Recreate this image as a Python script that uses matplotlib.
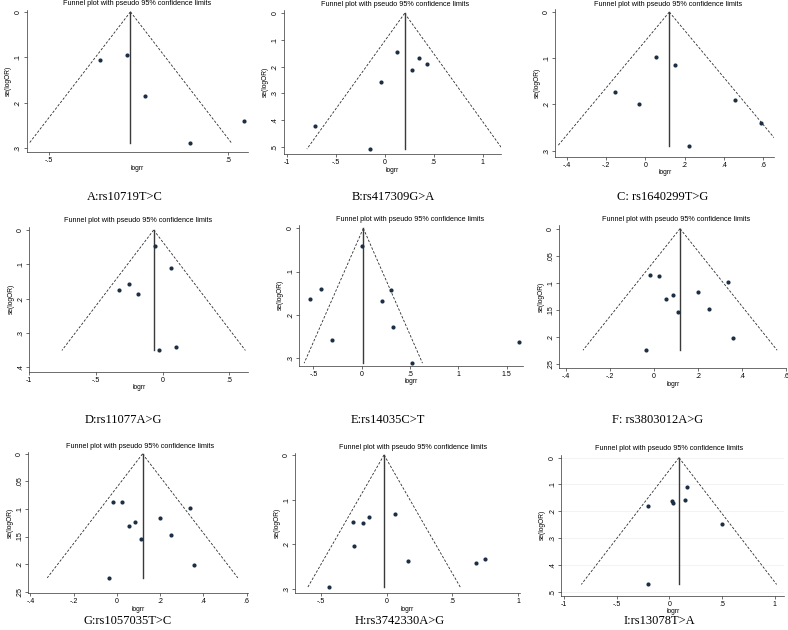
import matplotlib
matplotlib.use("Agg")
import matplotlib.pyplot as plt
import numpy as np

# ---- data (log rr, standard error, pooled estimate)
A_logrr = [-0.215, -0.066, 0.036, 0.290, 0.588]
A_se = [0.106, 0.095, 0.185, 0.289, 0.239]
A_center = -0.045

B_logrr = [-0.707, -0.146, -0.034, 0.126, 0.282, 0.350, 0.432]
B_se = [0.4225, 0.509, 0.256, 0.144, 0.2125, 0.169, 0.191]
B_center = 0.204

C_logrr = [-0.156, -0.034, 0.054, 0.149, 0.458, 0.586, 0.224]
C_se = [0.172, 0.200, 0.097, 0.115, 0.190, 0.240, 0.289]
C_center = 0.122

D_logrr = [-0.055, 0.0625, -0.255, -0.325, -0.185, -0.025, 0.100]
D_se = [0.046, 0.111, 0.158, 0.175, 0.186, 0.351, 0.341]
D_center = -0.0675

E_logrr = [0.007, -0.417, -0.531, 0.300, 0.214, 0.328, -0.303, 0.524, 1.628]
E_se = [0.042, 0.140, 0.163, 0.143, 0.169, 0.229, 0.258, 0.312, 0.263]
E_center = 0.017

F_logrr = [-0.018, 0.024, 0.057, 0.086, 0.110, 0.201, 0.248, 0.336, 0.357, -0.035]
F_se = [0.0864, 0.088, 0.131, 0.123, 0.154, 0.117, 0.148, 0.0988, 0.2025, 0.225]
F_center = 0.1186

G_logrr = [-0.018, 0.024, 0.057, 0.086, 0.110, 0.201, 0.248, 0.336, 0.357, -0.035]
G_se = [0.0864, 0.088, 0.131, 0.123, 0.154, 0.117, 0.148, 0.0988, 0.2025, 0.225]
G_center = 0.1186

H_logrr = [-0.254, -0.180, -0.137, 0.061, -0.249, 0.165, 0.680, 0.749, -0.437]
H_se = [0.150, 0.152, 0.140, 0.132, 0.204, 0.238, 0.243, 0.234, 0.297]
H_center = -0.020

I_logrr = [0.171, 0.149, 0.022, 0.035, -0.206, 0.500, -0.206]
I_se = [0.111, 0.158, 0.163, 0.169, 0.180, 0.249, 0.473]
I_center = 0.092

captions = ["A:rs10719T>C", "B:rs417309G>A", "C: rs1640299T>G",
            "D:rs11077A>G", "E:rs14035C>T", "F: rs3803012A>G",
            "G:rs1057035T>C", "H:rs3742330A>G", "I:rs13078T>A"]

A_xticks = [-0.5, 0.5]
B_xticks = [-1, -0.5, 0, 0.5, 1]
C_xticks = [-0.4, -0.2, 0, 0.2, 0.4, 0.6]
D_xticks = [-1, -0.5, 0, 0.5]
E_xticks = [-0.5, 0, 0.5, 1, 1.5]
F_xticks = [-0.4, -0.2, 0, 0.2, 0.4, 0.6]
G_xticks = [-0.4, -0.2, 0, 0.2, 0.4, 0.6]
H_xticks = [-0.5, 0, 0.5, 1]
I_xticks = [-1, -0.5, 0, 0.5, 1]

A_yticks = [0, 0.1, 0.2, 0.3]
B_yticks = [0, 0.1, 0.2, 0.3, 0.4, 0.5]
C_yticks = [0, 0.1, 0.2, 0.3]
D_yticks = [0, 0.1, 0.2, 0.3, 0.4]
E_yticks = [0, 0.1, 0.2, 0.3]
F_yticks = [0, 0.05, 0.1, 0.15, 0.2, 0.25]
G_yticks = [0, 0.05, 0.1, 0.15, 0.2, 0.25]
H_yticks = [0, 0.1, 0.2, 0.3]
I_yticks = [0, 0.1, 0.2, 0.3, 0.4, 0.5]

panels = [
    (A_logrr, A_se, A_center, A_xticks, A_yticks),
    (B_logrr, B_se, B_center, B_xticks, B_yticks),
    (C_logrr, C_se, C_center, C_xticks, C_yticks),
    (D_logrr, D_se, D_center, D_xticks, D_yticks),
    (E_logrr, E_se, E_center, E_xticks, E_yticks),
    (F_logrr, F_se, F_center, F_xticks, F_yticks),
    (G_logrr, G_se, G_center, G_xticks, G_yticks),
    (H_logrr, H_se, H_center, H_xticks, H_yticks),
    (I_logrr, I_se, I_center, I_xticks, I_yticks),
]

# ---- layout in pixels: axes box (left, top, right, bottom), x limits, y limits
W, H = 788, 630
layout = [
    ((26.7, 10, 248, 152), (-0.625, 0.612), (0.308, -0.004)),
    ((283.7, 10, 501.3, 154), (-1.03, 1.19), (0.5275, -0.0125)),
    ((555.3, 9.3, 774.3, 156.7), (-0.458, 0.656), (0.313, -0.006)),
    ((29.3, 226.7, 248, 371.7), (-1.0, 0.64), (0.413, -0.0097)),
    ((299, 225, 523, 365.7), (-0.648, 1.668), (0.318, -0.0077)),
    ((559.3, 225, 786, 368.3), (-0.43, 0.59), (0.2585, -0.0068)),
    ((28.3, 451.7, 248.3, 593.3), (-0.41, 0.608), (0.253, -0.004)),
    ((295.3, 452.7, 519.7, 593.3), (-0.696, 1.013), (0.31, -0.005)),
    ((561, 455, 784.3, 595.7), (-1.028, 1.092), (0.515, -0.01)),
]
title_pos = [(136.7, 3.3), (394.7, 5), (667.7, 4),
             (138, 220.7), (409.7, 219.3), (676, 219.3),
             (140, 446), (413, 447.3), (669.3, 449)]
caption_pos = [(125, 197), (393, 197), (663, 197),
               (123, 420), (388, 420), (658, 420),
               (128, 621), (400, 621), (659, 621)]

def stata_fmt(v):
    s = ("%g" % v)
    if s.startswith("0."):
        s = s[1:]
    elif s.startswith("-0."):
        s = "-" + s[2:]
    return s

plt.rcParams['font.family'] = ['Liberation Sans', 'DejaVu Sans']

fig = plt.figure(figsize=(W / 100, H / 100), dpi=100)
fig.patch.set_facecolor('white')

dot_color = '#1c2f45'
line_color = '#2b2b2b'

for idx, ((x, se, center, xt, yt), (box, xlim, ylim)) in enumerate(zip(panels, layout)):
    l, t, r, b = box
    ax = fig.add_axes([l / W, 1 - b / H, (r - l) / W, (b - t) / H])
    ax.set_xlim(*xlim)
    ax.set_ylim(*ylim)

    se_max = max(se)
    s_line = np.array([0, se_max])
    # pseudo 95% limits
    ax.plot(center - 1.96 * s_line, s_line, color=line_color, lw=0.6, ls=(0, (3, 2)))
    ax.plot(center + 1.96 * s_line, s_line, color=line_color, lw=0.6, ls=(0, (3, 2)))
    ax.plot([center, center], [0, se_max], color='#3a3a3a', lw=1.0)
    ax.plot(x, se, 'o', color=dot_color, markersize=3.0, markeredgewidth=0)

    ax.set_xticks(xt)
    ax.set_xticklabels([stata_fmt(v) for v in xt])
    ax.set_yticks(yt)
    ax.set_yticklabels([stata_fmt(v) for v in yt], rotation=90, va='center')
    ax.tick_params(axis='both', labelsize=5.0, length=2.2, width=0.5,
                   color='#333333', pad=1.5)
    for side in ['top', 'right']:
        ax.spines[side].set_visible(False)
    for side in ['left', 'bottom']:
        ax.spines[side].set_linewidth(0.5)
        ax.spines[side].set_color('#333333')
    ax.set_xlabel('logrr', fontsize=4.8, labelpad=0.3)
    ax.set_ylabel('se(logOR)', fontsize=4.8, labelpad=2)
    if idx == 8:
        ax.grid(axis='y', color='#eeeeee', lw=0.5)
        ax.set_axisbelow(True)

    tx, ty = title_pos[idx]
    fig.text(tx / W, 1 - ty / H, "Funnel plot with pseudo 95% confidence limits",
             fontsize=5.2, ha='center', va='center')
    cx, cy = caption_pos[idx]
    fig.text(cx / W, 1 - cy / H, captions[idx], fontsize=9.0,
             family=['Liberation Serif', 'DejaVu Serif'], ha='center', va='center')

fig.savefig('out.png', dpi=100)
